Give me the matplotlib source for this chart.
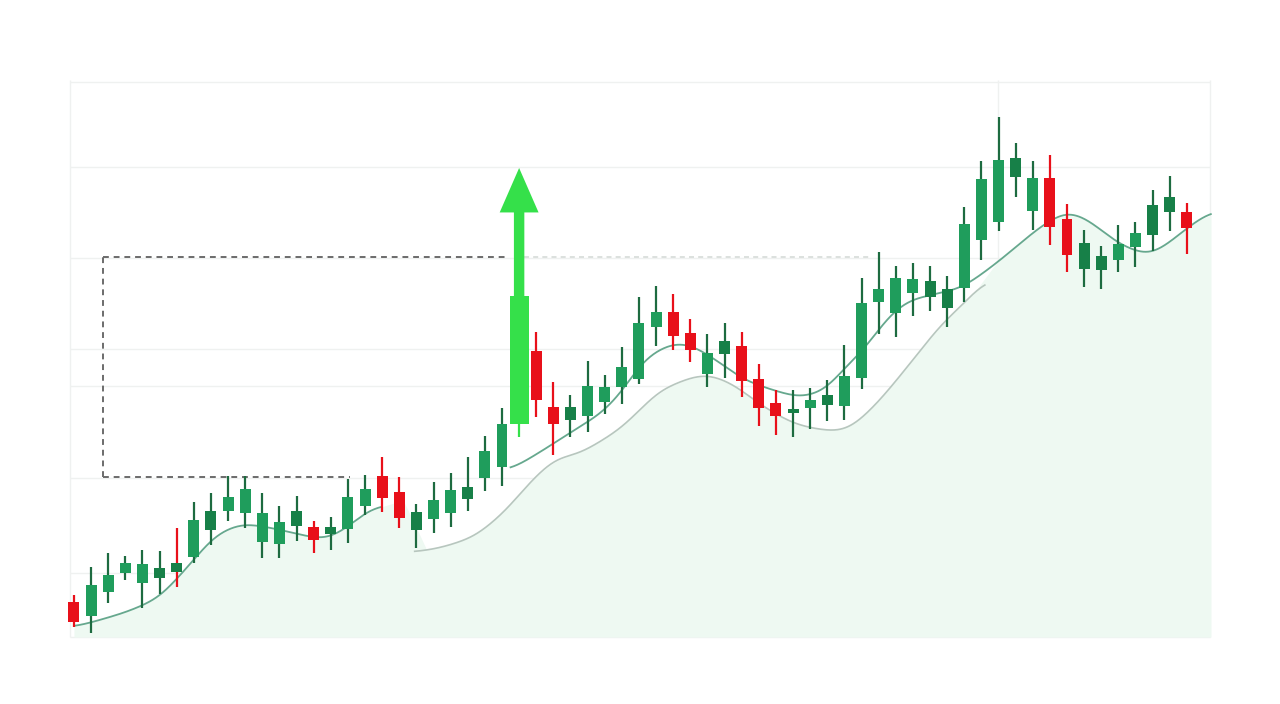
import numpy as np
import matplotlib.pyplot as plt

# candle data (price units, index = time step)
opens  = [101, 88, 112, 131, 121, 126, 132, 147, 174, 193, 191, 162, 160, 178, 176, 170, 175, 198, 227, 211,
          174, 185, 191, 205, 226, 237, 280, 352, 296, 284, 288, 302, 317, 325, 377, 391, 370, 330, 350, 357,
          324, 300, 291, 296, 299, 298, 326, 402, 391, 411, 407, 396, 416, 464, 482, 527, 493, 525, 484, 435,
          434, 444, 457, 469, 492, 491]
highs  = [109, 137, 151, 148, 154, 153, 176, 202, 211, 228, 228, 211, 198, 208, 183, 187, 225, 229, 247, 227,
          200, 222, 231, 247, 268, 296, 407, 372, 322, 309, 343, 329, 357, 407, 418, 410, 385, 370, 381, 372,
          340, 314, 314, 316, 324, 359, 426, 452, 438, 441, 438, 428, 497, 543, 587, 561, 543, 549, 500, 474,
          458, 479, 482, 514, 528, 501]
lows   = [77, 71, 101, 124, 96, 110, 117, 141, 159, 183, 176, 146, 146, 163, 151, 154, 161, 189, 192, 176,
          156, 171, 177, 193, 213, 218, 267, 287, 249, 267, 272, 290, 300, 320, 358, 354, 342, 317, 326, 307,
          278, 269, 267, 275, 283, 284, 315, 370, 367, 388, 393, 377, 402, 444, 473, 507, 474, 459, 432, 417,
          415, 432, 437, 453, 473, 450]
closes = [82, 118, 128, 140, 139, 135, 140, 183, 192, 206, 214, 190, 181, 192, 164, 176, 206, 214, 206, 186,
          191, 203, 213, 216, 252, 279, 407, 304, 280, 296, 317, 316, 336, 380, 391, 368, 354, 350, 362, 323,
          296, 288, 294, 303, 308, 327, 400, 414, 425, 424, 422, 414, 479, 524, 543, 545, 525, 477, 449, 460,
          447, 459, 470, 498, 506, 476]

# moving average lines (time index, price); nan = break in the line
ma_fast_t = [0.0, 1.1, 3.1, 5.0, 7.0, 8.2, 9.8, 11.6, 13.3, 14.7, 15.8, 17.0, 17.9, np.nan,
             25.5, 27.7, 29.4, 30.7, 31.9, 33.2, 34.6, 35.7, 37.1, 39.1, 40.8, 42.4, 44.0, 44.7, 46.3,
             47.5, 48.7, 50.6, 51.9, 53.9, 56.4, 58.0, 59.3, 60.9, 62.7, 63.6, 65.0, 66.4]
ma_fast_v = [77, 82, 92, 106, 144, 169, 181, 176, 169, 164, 174, 192, 199, np.nan,
             234, 257, 276, 289, 309, 344, 359, 362, 349, 324, 314, 306, 314, 331, 357,
             387, 404, 411, 416, 441, 477, 494, 484, 461, 448, 456, 476, 493]
ma_slow_t = [19.9, 21.4, 23.4, 25.1, 26.9, 28.2, 29.4, 30.7, 32.0, 34.2, 36.4, 37.3, 38.6, 40.1,
             41.8, 42.7, 44.6, 45.5, 47.1, 49.0, 50.6, 52.2, 53.2]
ma_slow_v = [152, 156, 167, 191, 227, 247, 249, 262, 276, 314, 329, 329, 319, 299,
             282, 277, 272, 277, 304, 344, 379, 404, 424]

grid_levels = [622, 537, 446, 355, 318, 226, 131, 67]
grid_times = [-0.23, 53.97, 66.36]

# highlighted range box and breakout
box_left, box_right_top, box_right_bottom = 1.69, 25.2, 16.1
box_top, box_bottom = 447, 227
box_ext = (26.3, 46.5)
breakout_idx = 26
arrow_tip = 536

dark_idx = [5, 6, 8, 13, 15, 20, 23, 29, 38, 42, 44, 50, 51, 55, 59, 60, 63, 64]
red_wick_idx = [6]


def smooth_segments(t, v, step=0.05, k=0.7):
    # densify each unbroken piece and round the corners
    t = np.array(t, float)
    v = np.array(v, float)
    breaks = np.where(np.isnan(t))[0]
    pieces = np.split(np.arange(len(t)), breaks)
    xs, ys = [], []
    for p in pieces:
        p = p[~np.isnan(t[p])]
        if len(p) < 2:
            continue
        tt = np.arange(t[p][0], t[p][-1] + step / 2, step)
        yy = np.interp(tt, t[p], v[p])
        n = int(k / step)
        ker = np.exp(-0.5 * (np.arange(-3 * n, 3 * n + 1) / n) ** 2)
        ker /= ker.sum()
        yy = np.convolve(np.pad(yy, 3 * n, mode='edge'), ker, mode='valid')
        xs.append(tt)
        ys.append(yy)
    return xs, ys


fig = plt.figure(figsize=(12.8, 7.04), dpi=100)
ax = fig.add_axes([0, 0, 1, 1])
ax.set_xlim(-4.32, 70.44)
ax.set_ylim(0, 704)
ax.axis('off')

# grid
ax.hlines(grid_levels, grid_times[0], grid_times[-1], color='#eff1f0', lw=1, zorder=0)
ax.vlines(grid_times, 67, 624, color='#eff1f0', lw=1, zorder=0)

fast_x, fast_y = smooth_segments(ma_fast_t, ma_fast_v)
slow_x, slow_y = smooth_segments(ma_slow_t, ma_slow_v)

# fill under the averages
tt = np.linspace(0, 66.4, 1500)
fx = np.concatenate(fast_x)
fy = np.concatenate(fast_y)
fast_i = np.interp(tt, fx, fy)
slow_i = np.interp(tt, slow_x[0], slow_y[0], left=np.inf, right=np.inf)
env = np.minimum(fast_i, slow_i)
kn = 15
env = np.convolve(np.pad(env, kn, mode='edge'), np.ones(2 * kn + 1) / (2 * kn + 1), mode='valid')
ax.fill_between(tt, 67, env, color='#eef9f2', lw=0, zorder=0.5)

for x, y in zip(fast_x, fast_y):
    ax.plot(x, y, color='#66a88e', lw=1.3, zorder=1)
for x, y in zip(slow_x, slow_y):
    ax.plot(x, y, color='#b7c6be', lw=1.2, zorder=1)

# dashed box
dash = dict(color='#6b6b6b', lw=1.4, ls=(0, (3, 2.5)), zorder=1.5)
ax.plot([box_left, box_left], [box_bottom, box_top], **dash)
ax.plot([box_left, box_right_top], [box_top, box_top], **dash)
ax.plot([box_left, box_right_bottom], [box_bottom, box_bottom], **dash)
ax.plot(box_ext, [box_top, box_top], color='#d6dbd8', lw=1.2, ls=(0, (3, 2.5)), zorder=1.5)

# candles
o = np.array(opens)
c = np.array(closes)
idx = np.arange(len(o))
up = c >= o
body_col = []
wick_col = []
for i in idx:
    if i == breakout_idx:
        body_col.append('#35e04a')
        wick_col.append('#35e04a')
    elif up[i]:
        body_col.append('#178048' if i in dark_idx else '#1f9d5c')
        wick_col.append('#e8101a' if i in red_wick_idx else '#1d6b40')
    else:
        body_col.append('#e8101a')
        wick_col.append('#e8101a')

ax.vlines(idx, lows, highs, colors=wick_col, lw=1.6, zorder=2)
widths = [1.1 if i == breakout_idx else 0.64 for i in idx]
ax.bar(idx, np.abs(c - o) + 1, bottom=np.minimum(o, c), width=widths, color=body_col, zorder=3)

# breakout arrow
ax.annotate('', xy=(breakout_idx, arrow_tip), xytext=(breakout_idx, closes[breakout_idx]),
            arrowprops=dict(arrowstyle='simple,head_length=32,head_width=28,tail_width=7.5',
                            mutation_scale=1, color='#35e04a', lw=0, shrinkA=0, shrinkB=0),
            zorder=4)

fig.savefig('out.png', dpi=100, facecolor='white')
